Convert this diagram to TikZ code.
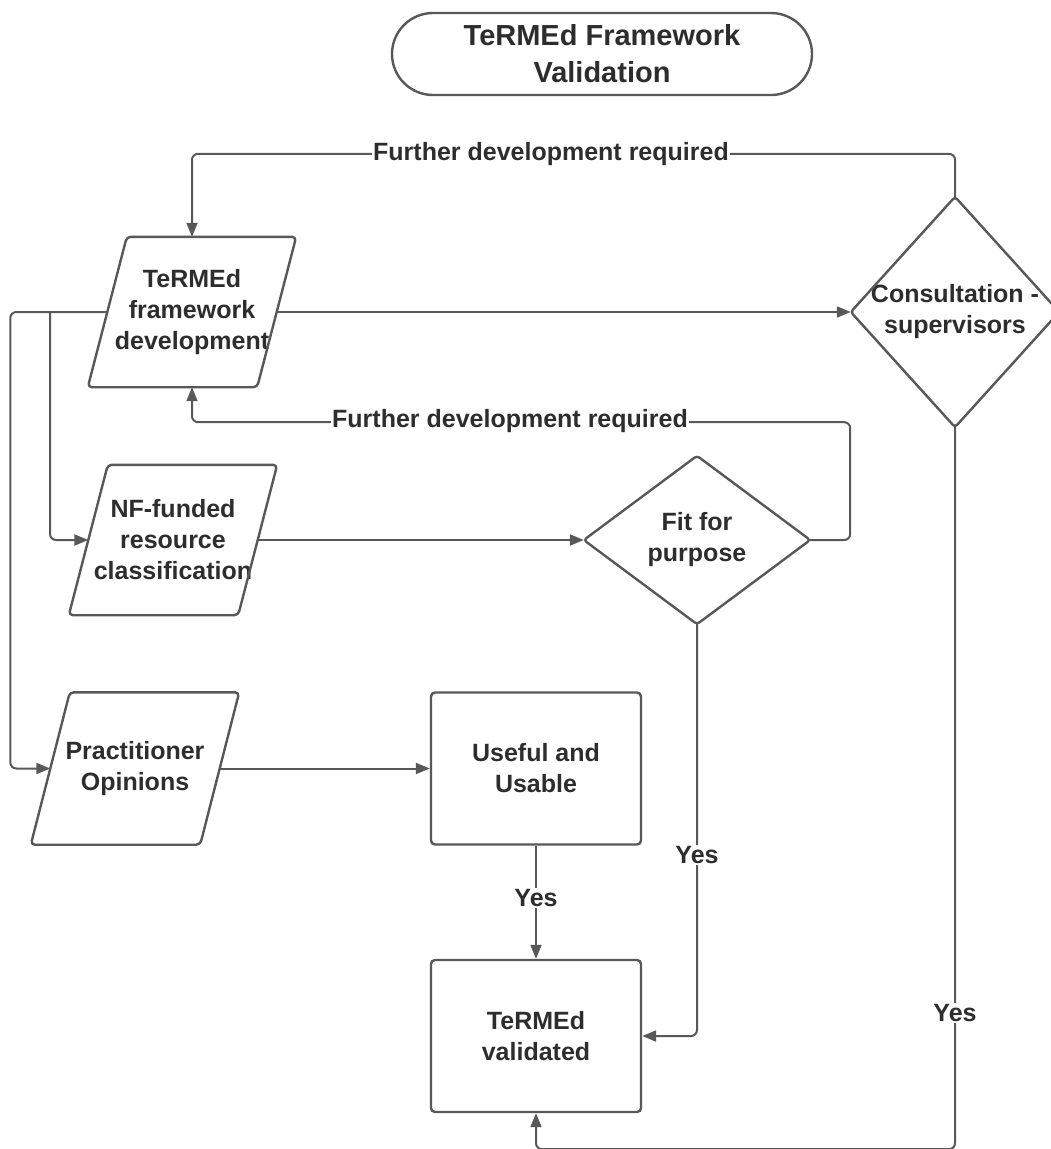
\documentclass[tikz,border=0pt]{standalone}
\usepackage{fontspec}
\setmainfont{Liberation Sans}
\usetikzlibrary{arrows.meta,calc}
\definecolor{linec}{RGB}{88,88,88}
\definecolor{txtc}{RGB}{45,45,45}
\newcommand\mybodyfont{\fontsize{25pt}{31pt}\selectfont\bfseries}
\newcommand\mytitlefont{\fontsize{29pt}{37pt}\selectfont\bfseries}
\begin{document}
\begin{tikzpicture}[x=1pt,y=-1pt,
  titlebox/.style={draw=linec, line width=2.4pt, rounded corners=41pt, minimum width=420pt, minimum height=82pt, align=center, text=txtc, font=\mytitlefont},
  procbox/.style={draw=linec, line width=2.4pt, rounded corners=4pt, minimum width=210pt, minimum height=152pt, inner sep=2pt, align=center, text=txtc, font=\mybodyfont},
  parah/.style={draw=none, minimum width=169pt, minimum height=150pt, inner sep=2pt, align=center, text=txtc, font=\mybodyfont},
  diah/.style={draw=none, inner sep=0pt, align=center, text=txtc, font=\mybodyfont},
  shp/.style={draw=linec, line width=2.4pt, rounded corners=4pt, line join=round},
  conn/.style={draw=linec, line width=2pt, rounded corners=6pt, -{Triangle[length=14pt,width=11pt]}},
  lbl/.style={fill=white, inner sep=1pt, text=txtc, font=\mybodyfont}
]
\useasboundingbox (0,0) rectangle (1051,1149);
\clip (0,0) rectangle (1051,1149);

% nodes
\node[titlebox] (ttl) at (602,54) {TeRMEd Framework\\Validation};
\node[parah] (p1) at (192,312) {TeRMEd\\framework\\development};
\node[parah] (nf) at (173,540) {NF-funded\\resource\\classification};
\node[parah, minimum height=152pt] (prac) at (135,768.5) {Practitioner\\Opinions};
\node[diah, minimum width=208pt, minimum height=230pt] (consult) at (955,312) {Consultation -\\supervisors};
\node[diah, minimum width=226pt, minimum height=168pt] (fit) at (697,540) {Fit for\\purpose};
\node[procbox] (useful) at (536,768.5) {Useful and\\Usable};
\node[procbox] (val) at (536,1036) {TeRMEd\\validated};

% parallelogram outlines
\foreach \n in {p1,nf,prac}{
  \draw[shp] ([xshift=-19.5pt]\n.south west) -- ([xshift=19.5pt]\n.north west) -- ([xshift=19.5pt]\n.north east) -- ([xshift=-19.5pt]\n.south east) -- cycle;
}
% diamond outlines
\foreach \n in {consult,fit}{
  \draw[shp, rounded corners=3pt] (\n.north) -- (\n.east) -- (\n.south) -- (\n.west) -- cycle;
}

% connectors
\draw[conn] (p1.east) -- (consult.west);
\draw[conn] (consult.north) -- ++(0,-43) -| (p1.north);
\node[lbl] at (551,154) {Further development required};
\draw[conn] (fit.east) -- ++(40,0) |- ($(p1.south)+(0,35)$) -- (p1.south);
\node[lbl] at (510,421) {Further development required};
\draw[conn] (p1.west) -| ([xshift=-40pt]prac.west) -- (prac.west);
\coordinate (j1) at (50,312);
\draw[conn] (j1) |- (nf.west);
\draw[conn] (nf.east) -- (fit.west);
\draw[conn] (prac.east) -- (useful.west);
\draw[conn] (useful.south) -- (val.north);
\node[lbl] at (536,898) {Yes};
\draw[conn] (fit.south) |- (val.east);
\node[lbl] at (697,855) {Yes};
\draw[conn] (consult.south) |- ([yshift=-36pt]val.south) -- (val.south);
\node[lbl] at (955,1013) {Yes};
\end{tikzpicture}
\end{document}
